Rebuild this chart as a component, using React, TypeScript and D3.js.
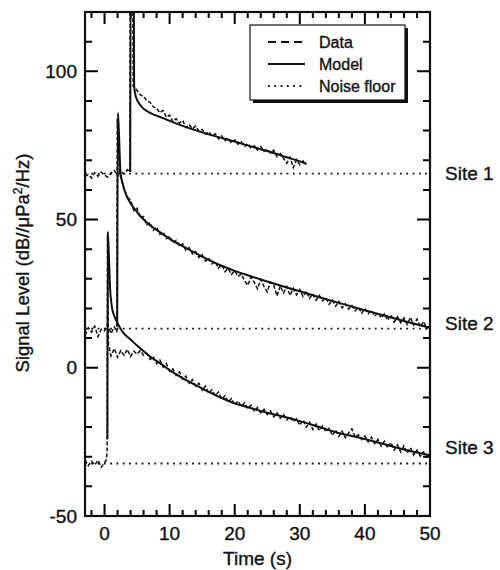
import React, { useEffect, useRef } from "react";
import * as d3 from "d3";

type Pt = [number, number];

// time (s), signal level (dB)
const site1Model: Pt[] = [
  [3.95, 66], [4.0, 126], [4.5, 126], [4.55, 95], [4.8, 91.5], [5.6, 88.3], [7, 86],
  [9, 84.2], [10, 83.3], [12, 81.6], [15, 79.4], [18, 77.5], [20, 76.3], [22, 75],
  [25, 73.1], [28, 71], [30, 69.6], [31, 68.8],
];
const site2Model: Pt[] = [
  [1.95, 14], [2.05, 86], [2.2, 80], [2.45, 66], [2.8, 62], [3.2, 59], [4, 55.5],
  [5, 52.5], [6, 50], [7, 48], [8, 46.5], [10, 43.5], [12, 41], [15, 37.5], [18, 34.4],
  [20, 32.7], [22, 31.2], [25, 29.1], [28, 27.1], [30, 25.8], [33, 23.8], [36, 21.9],
  [40, 19.4], [43, 17.6], [46, 15.8], [50, 13.5],
];
const site3Model: Pt[] = [
  [0.45, -24], [0.5, 46], [0.7, 36], [0.85, 27], [1.1, 21], [1.5, 17.5], [2, 15],
  [2.5, 13], [3, 11.5], [4, 9.5], [5, 7.5], [7, 3.8], [9, 0.8], [10, -0.8], [12, -3.5],
  [15, -7], [18, -10.2], [20, -12], [22, -13.3], [25, -15.2], [28, -16.8], [30, -18],
  [33, -20], [36, -22], [40, -24], [43, -25.8], [46, -27.6], [50, -29.5],
];

const site1Data: Pt[] = [
  [-3, 64.5], [-2.5, 65.2], [-2, 64], [-1.5, 65.8], [-1, 64.6], [-0.5, 66], [0, 65],
  [0.5, 64.3], [1, 65.7], [1.5, 66.5], [2, 65], [2.5, 66.2], [3, 65.4], [3.5, 66.8],
  [3.9, 66], [3.95, 126], [4.35, 126], [4.4, 95], [5, 93.5], [5.5, 92], [6, 91.5],
  [6.5, 90], [7, 89.5], [7.5, 88], [8, 87.6], [8.5, 86], [9, 86.8], [9.5, 84.5],
  [10, 85.2], [10.5, 83], [11, 84], [11.5, 82.5], [12, 83.4], [12.5, 81], [13, 82],
  [13.5, 80.6], [14, 81.5], [14.5, 79.8], [15, 80.4], [15.5, 78.8], [16, 79.6],
  [16.5, 78.2], [17, 78.9], [17.5, 77.2], [18, 78.2], [18.5, 76.6], [19, 77.4],
  [19.5, 75.8], [20, 76.9], [20.5, 75.4], [21, 76.2], [21.5, 74.6], [22, 75.6],
  [22.5, 74], [23, 74.9], [23.5, 73.4], [24, 74.6], [24.5, 73], [25, 73.8], [25.5, 72.4],
  [26, 73.4], [26.5, 71.2], [27, 72.2], [27.5, 70.6], [28, 69], [28.5, 71], [29, 67.5],
  [29.5, 70.2], [30, 68.5], [30.5, 69.8], [31, 68.6],
];
const site2Data: Pt[] = [
  [-3, 11], [-2.5, 13.5], [-2, 12], [-1.5, 14], [-1, 10.5], [-0.5, 13], [0, 12.5],
  [0.5, 14.5], [1, 11.5], [1.5, 13.8], [1.9, 12], [1.95, 84], [2.3, 66], [2.5, 64],
  [3, 60.5], [3.5, 57.5], [4, 56.5], [4.5, 53], [5, 53.8], [5.5, 50.5], [6, 51],
  [6.5, 48.2], [7, 49], [7.5, 46.4], [8, 47.5], [8.5, 45], [9, 45.8], [9.5, 43.6],
  [10, 44.4], [10.5, 42.2], [11, 43], [11.5, 41], [12, 41.8], [12.5, 39.6], [13, 40.5],
  [13.5, 38.4], [14, 39.2], [14.5, 37.2], [15, 38.2], [15.5, 36], [16, 37], [16.5, 35],
  [17, 35.8], [17.5, 33.6], [18, 34.8], [18.5, 32.4], [19, 33.5], [19.5, 31.5],
  [20, 32.8], [20.5, 30.8], [21, 31.6], [21.5, 29.4], [22, 27.8], [22.5, 30.6],
  [23, 28.8], [23.5, 26.6], [24, 29.8], [24.5, 27.4], [25, 25.6], [25.5, 28.9], [26, 27.8],
  [26.5, 24.2], [27, 27.6], [27.5, 25.2], [28, 27.4], [28.5, 24.4], [29, 26.8], [29.5, 24.6],
  [30, 26.4], [30.5, 24], [31, 25.8], [31.5, 23.4], [32, 25], [32.5, 22.8], [33, 24.4],
  [33.5, 22.6], [34, 23.6], [34.5, 21.4], [35, 22.8], [35.5, 20.8], [36, 22.4], [36.5, 20.2],
  [37, 21.6], [37.5, 19.8], [38, 21], [38.5, 19.2], [39, 20.4], [39.5, 18.4], [40, 20],
  [40.5, 18.2], [41, 19.4], [41.5, 17.4], [42, 18.6], [42.5, 16.8], [43, 18.2], [43.5, 16],
  [44, 17.8], [44.5, 15.4], [45, 17.2], [45.5, 15.2], [46, 16.8], [46.5, 14.6], [47, 17],
  [47.5, 14.4], [48, 16.4], [48.5, 13.8], [49, 15.6], [49.5, 13.2], [50, 14.4],
];
const site3Data: Pt[] = [
  [-3, -31], [-2.5, -33], [-2, -31.5], [-1.5, -32.8], [-1, -31.2], [-0.5, -33.5],
  [0, -32], [0.3, -31], [0.4, -28], [0.45, 45], [0.6, 8], [1, 4], [1.5, 6.5], [2, 3.5],
  [2.5, 5.8], [3, 4.2], [3.5, 6.2], [4, 3.8], [4.5, 5.6], [5, 4.6], [5.5, 5.8], [6, 4.2],
  [6.5, 4.8], [7, 2.8], [7.5, 3.6], [8, 1.4], [8.5, 2.6], [9, 0.2], [9.5, 1.4], [10, -1.2],
  [10.5, -0.4], [11, -2.6], [11.5, -1.4], [12, -3.8], [12.5, -2.8], [13, -5.2], [13.5, -4],
  [14, -6.2], [14.5, -5.2], [15, -7.6], [15.5, -6.2], [16, -8.6], [16.5, -7.4], [17, -9.4],
  [17.5, -8.2], [18, -10.6], [18.5, -9.4], [19, -11.6], [19.5, -10.4], [20, -12.6],
  [20.5, -11.2], [21, -13], [21.5, -11.8], [22, -13.8], [22.5, -12.6], [23, -14.6],
  [23.5, -13.4], [24, -15.2], [24.5, -14], [25, -15.8], [25.5, -14.6], [26, -16.6],
  [26.5, -15.2], [27, -17], [27.5, -15.8], [28, -17.6], [28.5, -16.4], [29, -18.2],
  [29.5, -17.2], [30, -19.4], [30.5, -17.6], [31, -20], [31.5, -18.4], [32, -20.8],
  [32.5, -19], [33, -21.2], [33.5, -19.6], [34, -21.6], [34.5, -20.4], [35, -22.8],
  [35.5, -21], [36, -23.2], [36.5, -21.4], [37, -23.6], [37.5, -22], [38, -20.6],
  [38.5, -23.4], [39, -22.6], [39.5, -24.2], [40, -23], [40.5, -25], [41, -23.4],
  [41.5, -25.6], [42, -24.2], [42.5, -26.4], [43, -24.8], [43.5, -27], [44, -25.2],
  [44.5, -27.8], [45, -26], [45.5, -28.4], [46, -26.4], [46.5, -28.8], [47, -27],
  [47.5, -29.4], [48, -27.8], [48.5, -29.8], [49, -28.4], [49.5, -30.2], [50, -29.2],
];

const noiseFloors = [65.5, 13.2, -32.3];
const siteNames = ["Site 1", "Site 2", "Site 3"];
const siteLabelLevels = [65.5, 15, -27];
const xTickLabels = [0, 10, 20, 30, 40, 50];
const yTickLabels = [-50, 0, 50, 100];
const legendItems = ["Data", "Model", "Noise floor"];

const W = 500, H = 570;
const FONT = "'Liberation Sans', Arial, Helvetica, sans-serif";
const INK = "#111";

const App = () => {
  const ref = useRef<SVGSVGElement>(null);

  useEffect(() => {
    const svg = d3.select(ref.current);
    svg.selectAll("*").remove();

    const x = d3.scaleLinear().domain([-3, 50]).range([85, 430]);
    const y = d3.scaleLinear().domain([-50, 120]).range([516, 12]);
    const [x0, x1] = x.range();
    const [y0, y1] = y.range();

    svg.append("rect").attr("width", W).attr("height", H).attr("fill", "#fff");

    svg.append("clipPath").attr("id", "plotclip")
      .append("rect").attr("x", x0).attr("y", y1).attr("width", x1 - x0).attr("height", y0 - y1);

    const plot = svg.append("g").attr("clip-path", "url(#plotclip)");
    const line = d3.line<Pt>().x(d => x(d[0])).y(d => y(d[1]));
    const smooth = d3.line<Pt>().x(d => x(d[0])).y(d => y(d[1])).curve(d3.curveMonotoneX);

    // noise floors
    noiseFloors.forEach(v => {
      plot.append("line")
        .attr("x1", x(-3)).attr("x2", x(50)).attr("y1", y(v)).attr("y2", y(v))
        .attr("stroke", INK).attr("stroke-width", 1.8).attr("stroke-dasharray", "1.8,4.5");
    });

    // data
    [site1Data, site2Data, site3Data].forEach(d => {
      plot.append("path").attr("d", line(d)).attr("fill", "none")
        .attr("stroke", INK).attr("stroke-width", 1.5).attr("stroke-dasharray", "4,2");
    });

    // model
    [site1Model, site2Model, site3Model].forEach(d => {
      plot.append("path").attr("d", smooth(d)).attr("fill", "none")
        .attr("stroke", INK).attr("stroke-width", 2);
    });

    // frame
    svg.append("rect").attr("x", x0).attr("y", y1).attr("width", x1 - x0).attr("height", y0 - y1)
      .attr("fill", "none").attr("stroke", INK).attr("stroke-width", 2.2);

    const txt = svg.append("g").attr("font-family", FONT).attr("fill", INK)
      .attr("stroke", INK).attr("stroke-width", 0.35);
    xTickLabels.forEach(t => {
      txt.append("text").attr("x", x(t)).attr("y", y0 + 24).attr("text-anchor", "middle")
        .attr("font-size", 19).text(t);
    });
    yTickLabels.forEach(v => {
      txt.append("text").attr("x", x0 - 8).attr("y", y(v)).attr("dy", "0.35em").attr("text-anchor", "end")
        .attr("font-size", 19).text(v);
    });
    txt.append("text").attr("x", (x0 + x1) / 2).attr("y", 565).attr("text-anchor", "middle")
      .attr("font-size", 19).text("Time (s)");

    const yl = txt.append("text").attr("transform", `translate(29,${263}) rotate(-90)`)
      .attr("text-anchor", "middle").attr("font-size", 18.5);
    yl.append("tspan").text("Signal Level (dB//μPa");
    yl.append("tspan").attr("dy", -7).attr("font-size", 12).text("2");
    yl.append("tspan").attr("dy", 7).text("/Hz)");

    siteNames.forEach((s, i) => {
      txt.append("text").attr("x", 445).attr("y", y(siteLabelLevels[i])).attr("dy", "0.35em")
        .attr("font-size", 19).text(s);
    });

    // legend
    const lg = svg.append("g");
    const lx = 250, ly = 25, lw = 155, lh = 75;
    lg.append("rect").attr("x", lx + 3).attr("y", ly + 3).attr("width", lw).attr("height", lh).attr("fill", INK);
    lg.append("rect").attr("x", lx).attr("y", ly).attr("width", lw).attr("height", lh)
      .attr("fill", "#fff").attr("stroke", INK).attr("stroke-width", 1.2);
    const dashes = ["8,5", null, "1.8,4.5"];
    legendItems.forEach((name, i) => {
      const cy = 42 + i * 22;
      const l = lg.append("line").attr("x1", 268).attr("x2", 305).attr("y1", cy).attr("y2", cy)
        .attr("stroke", INK).attr("stroke-width", 1.8);
      if (dashes[i]) l.attr("stroke-dasharray", dashes[i] as string);
      lg.append("text").attr("x", 319).attr("y", cy).attr("dy", "0.35em")
        .attr("font-family", FONT).attr("font-size", 16).attr("fill", INK)
        .attr("stroke", INK).attr("stroke-width", 0.35).text(name);
    });

    // ticks, inward on all four sides, drawn last as one path
    const p = d3.path();
    d3.range(-2, 50, 2).forEach(t => {
      const len = t % 10 === 0 ? 12 : 6;
      const px = x(t);
      p.moveTo(px, y0); p.lineTo(px, y0 - len);
      p.moveTo(px, y1); p.lineTo(px, y1 + len);
    });
    d3.range(-40, 120, 10).forEach(v => {
      const len = v % 50 === 0 ? 13 : 7;
      const py = y(v);
      p.moveTo(x0, py); p.lineTo(x0 + len, py);
      p.moveTo(x1, py); p.lineTo(x1 - len, py);
    });
    svg.append("path").attr("d", p.toString()).attr("fill", "none")
      .attr("stroke", "#000").attr("stroke-width", 2);
  }, []);

  return (
    <svg ref={ref} width={W} height={H} style={{ position: "absolute", left: 0, top: 0 }} />
  );
};

export default App;
